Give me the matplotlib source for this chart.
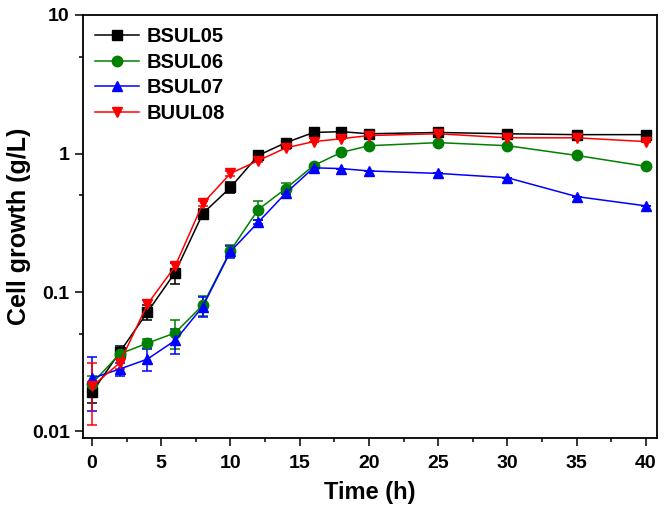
import matplotlib.pyplot as plt
import numpy as np

# Cell growth over time for four strains
time_h = [0, 2, 4, 6, 8, 10, 12, 14, 16, 18, 20, 25, 30, 35, 40]

bsul05 = [0.019, 0.037, 0.072, 0.139, 0.37, 0.57, 0.97, 1.2, 1.42, 1.44, 1.39, 1.42, 1.39, 1.37, 1.37]
bsul05_err = [0.003, 0.004, 0.009, 0.025, 0.03, 0.05, 0.02, 0.02, 0, 0, 0, 0, 0, 0, 0]

bsul06 = [0.022, 0.036, 0.043, 0.051, 0.081, 0.2, 0.395, 0.56, 0.82, 1.02, 1.14, 1.2, 1.14, 0.97, 0.81]
bsul06_err = [0.003, 0.003, 0.003, 0.012, 0.013, 0.02, 0.06, 0.05, 0, 0, 0, 0, 0, 0, 0]

bsul07 = [0.024, 0.028, 0.033, 0.045, 0.079, 0.197, 0.32, 0.52, 0.79, 0.78, 0.75, 0.72, 0.67, 0.49, 0.42]
bsul07_err = [0.01, 0.003, 0.006, 0.009, 0.013, 0.02, 0.01, 0.01, 0, 0, 0, 0, 0, 0, 0]

buul08 = [0.021, 0.031, 0.082, 0.154, 0.437, 0.72, 0.89, 1.1, 1.22, 1.28, 1.35, 1.39, 1.3, 1.3, 1.22]
buul08_err = [0.01, 0.003, 0.006, 0.008, 0.02, 0.03, 0.02, 0.02, 0, 0, 0, 0, 0, 0, 0]

series = [
    ('BSUL05', bsul05, bsul05_err, 'black', 's'),
    ('BSUL06', bsul06, bsul06_err, '#008000', 'o'),
    ('BSUL07', bsul07, bsul07_err, '#0000ff', '^'),
    ('BUUL08', buul08, buul08_err, '#ff0000', 'v'),
]

plt.rcParams['font.family'] = ['Liberation Sans', 'DejaVu Sans']
plt.rcParams['font.weight'] = 'bold'

fig = plt.figure(figsize=(6.64, 5.13), dpi=100)
ax = fig.add_axes([0.125, 0.146, 0.8645, 0.825])

handles = []
for name, vals, errs, color, marker in series:
    c = ax.errorbar(time_h, vals, yerr=errs, color=color, marker=marker,
                    markersize=7.5, linewidth=1.1, elinewidth=1.1,
                    capsize=3.5, capthick=1.1, label=name)
    handles.append(c[0])

ax.set_yscale('log')
ax.set_ylim(0.0089, 10)
ax.set_xlim(-0.65, 40.8)
ax.set_xticks(np.arange(0, 41, 5))
ax.set_xticks(np.arange(2.5, 41, 5), minor=True)
ax.set_yticks([0.01, 0.1, 1, 10])
ax.set_yticklabels(['0.01', '0.1', '1', '10'])
ax.set_yticks([0.05, 0.5, 5], minor=True)
ax.yaxis.set_minor_formatter(plt.NullFormatter())

ax.tick_params(which='both', direction='out', top=False, right=False,
               labelsize=14, width=1.1)
ax.tick_params(which='major', length=5.5, pad=4)
ax.tick_params(axis='x', which='major', pad=7)
ax.tick_params(which='minor', length=3)
for sp in ax.spines.values():
    sp.set_linewidth(1.3)

ax.set_xlabel('Time (h)', fontsize=17, fontweight='bold', labelpad=6)
ax.set_ylabel('Cell growth (g/L)', fontsize=18, fontweight='bold', labelpad=1)

ax.legend(handles, [s[0] for s in series], loc='upper left', frameon=False,
          fontsize=14.5, handlelength=2.2, borderaxespad=0.3,
          labelspacing=0.33, handletextpad=0.35, borderpad=0.3)

fig.savefig('out.png', dpi=100)
